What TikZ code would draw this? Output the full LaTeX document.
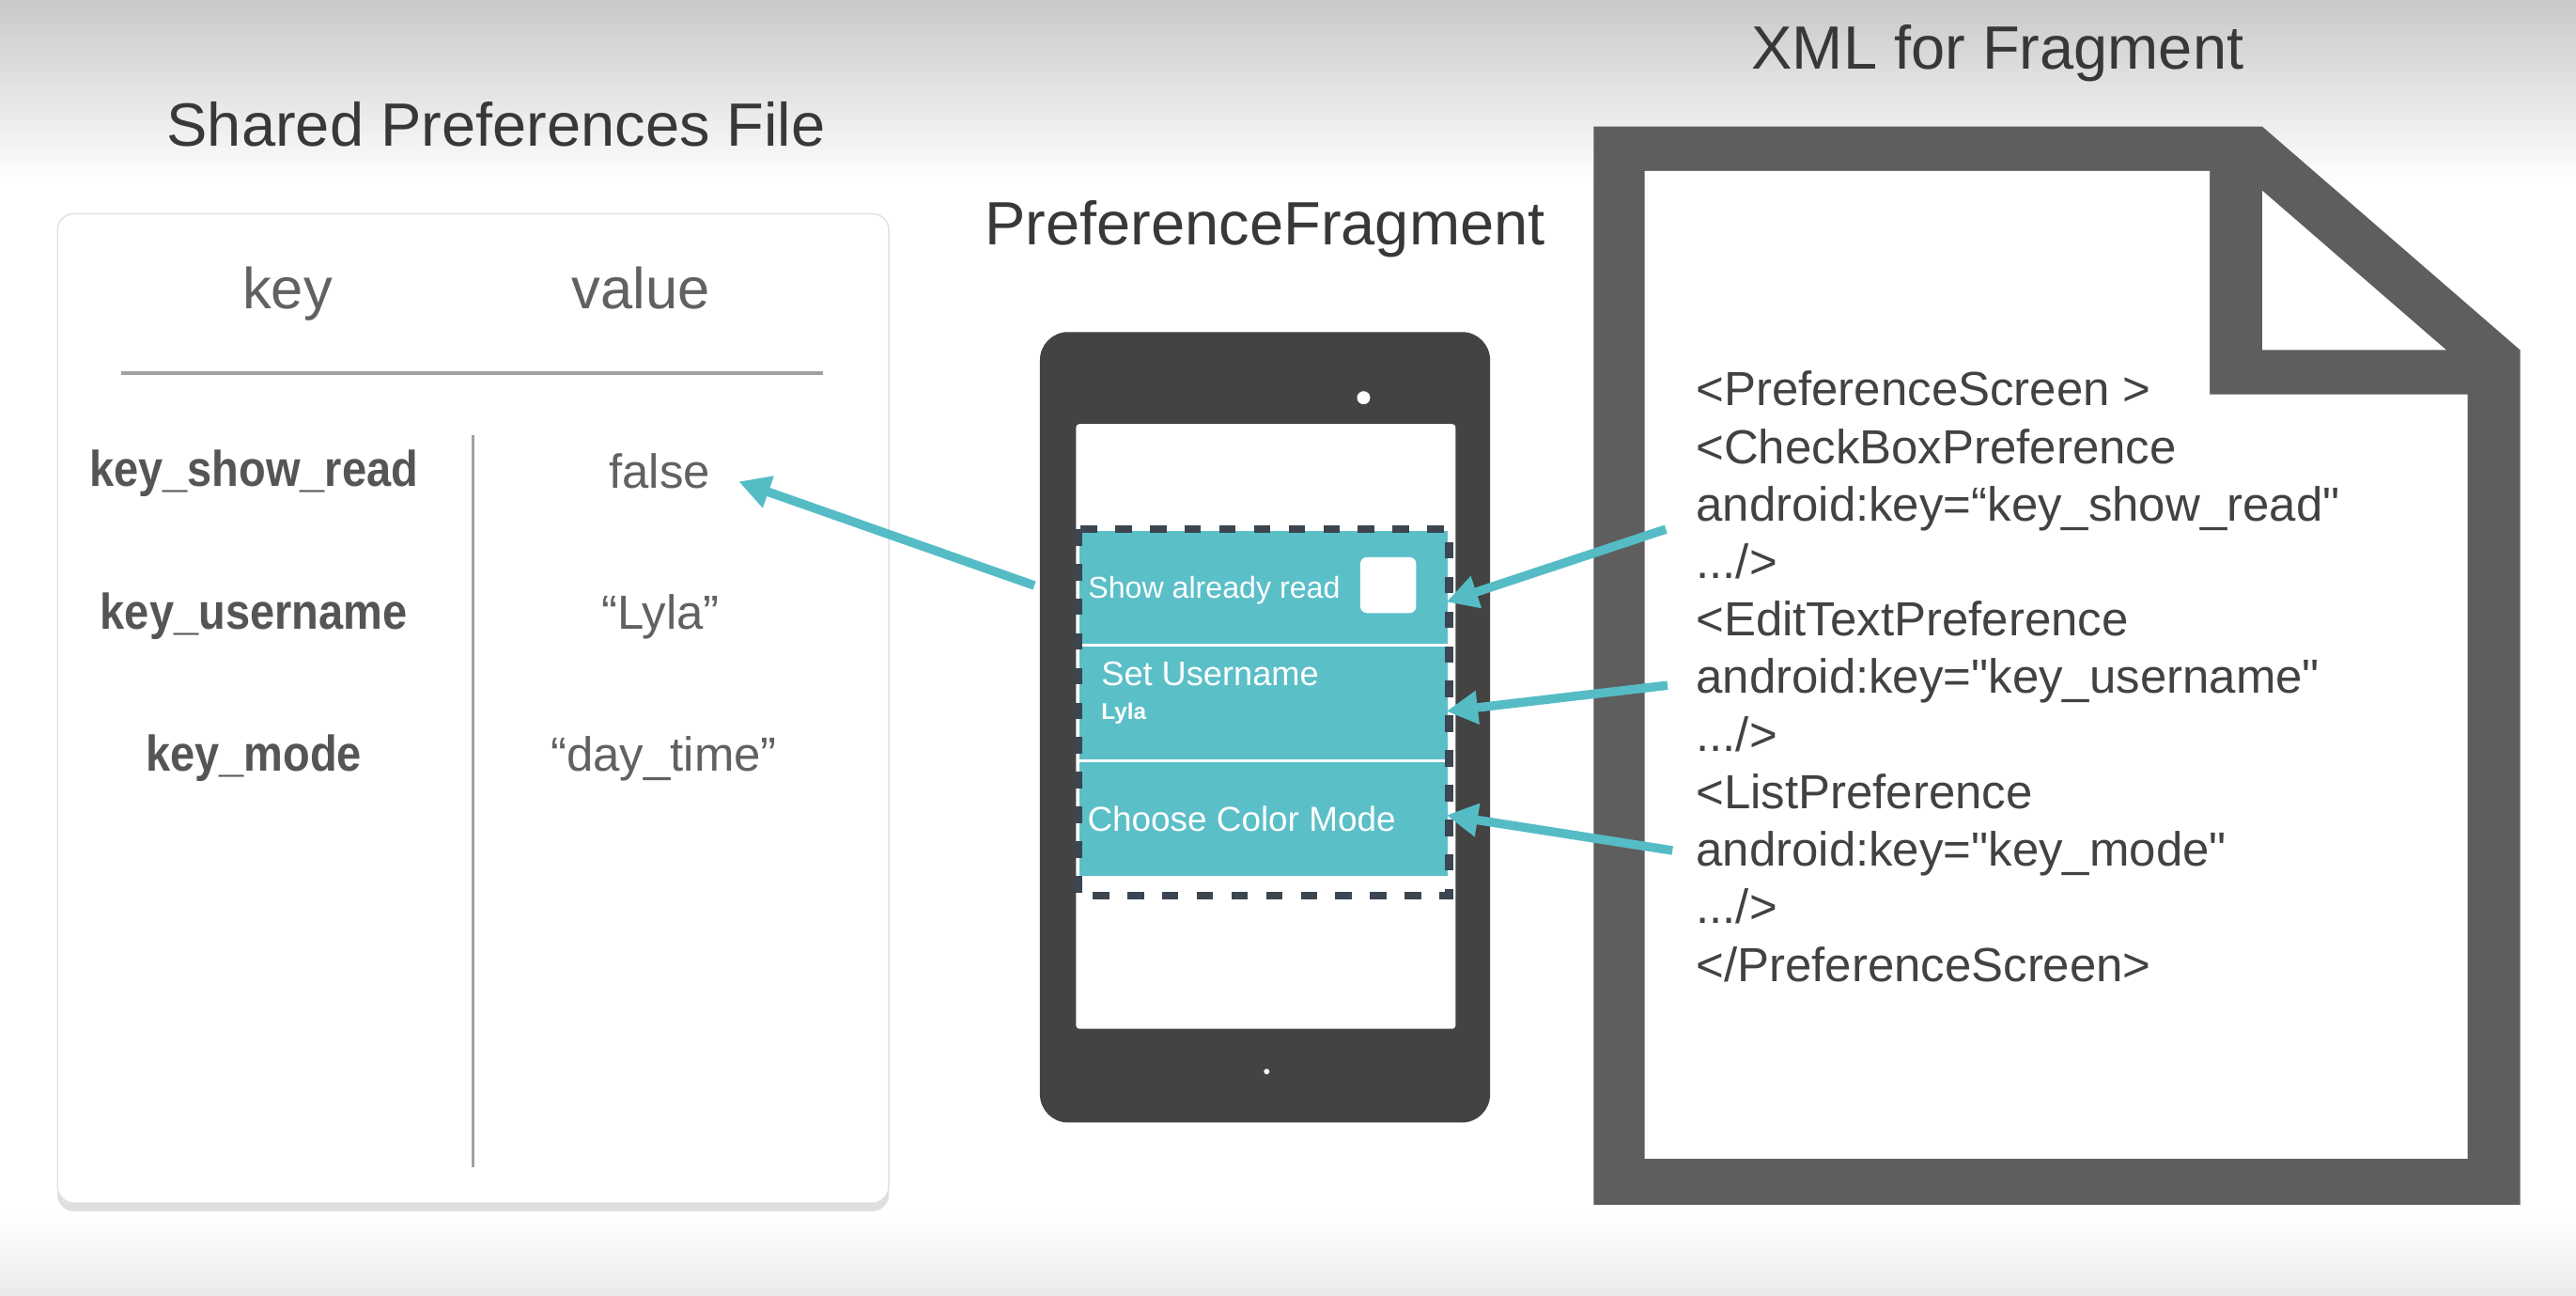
\documentclass[tikz,border=0pt]{standalone}
\usepackage{fontspec}
\setmainfont{Liberation Sans}
\newfontfamily\keyfont[FakeStretch=0.88]{Liberation Sans}
\newfontfamily\xmlfont[Ligatures=TeXOff]{Liberation Sans}
\usetikzlibrary{positioning,arrows.meta,fit,calc,shadows}
\definecolor{prefTeal}{HTML}{5BBFC8}
\definecolor{arrowTeal}{HTML}{55BCC6}
\definecolor{phoneGray}{HTML}{434343}
\definecolor{docGray}{HTML}{5E5E5E}
\definecolor{dashGray}{HTML}{3B4650}
\definecolor{tableText}{HTML}{616161}
\definecolor{keyText}{HTML}{555555}
\definecolor{ruleGray}{HTML}{A0A0A0}
\definecolor{xmlText}{HTML}{424242}
\definecolor{titleText}{HTML}{383838}
\definecolor{bgTop}{HTML}{C9C9C9}
\definecolor{bgBottom}{HTML}{EAEAEA}

\begin{document}
\begin{tikzpicture}[
                  x=0.1749mm, y=-0.1749mm,
                  title/.style={font=\fontsize{18.5}{22}\selectfont,text=titleText,inner sep=0pt,anchor=base},
                  head/.style={font=\fontsize{17.5}{21}\selectfont,text=tableText,inner sep=0pt,anchor=base},
                  keyname/.style={font=\keyfont\bfseries\fontsize{15.2}{18}\selectfont,text=keyText,inner sep=0pt,anchor=base},
                  keyval/.style={font=\fontsize{14.5}{17}\selectfont,text=tableText,inner sep=0pt,anchor=base},
                  xmlline/.style={font=\xmlfont\fontsize{14.5}{17}\selectfont,text=xmlText,inner sep=0pt,anchor=base west},
                  card/.style={fill=white,draw=black!12,rounded corners=5pt,inner sep=0pt,
                               drop shadow={opacity=.25,shadow xshift=0pt,shadow yshift=-2.5pt}},
                  row/.style={fill=prefTeal,inner sep=0pt},
                  rowtext/.style={text=white,inner sep=0pt,anchor=base west},
                  arr/.style={-{Triangle[length=9.5pt,width=9.6pt]},line width=2.7pt,draw=arrowTeal},
                  dashbox/.style={draw=dashGray,line width=2.5pt,dash pattern=on 5pt off 5.5pt}
                ]
                \useasboundingbox (0,0) rectangle (1568,788);
                \fill[white] (0,0) rectangle (1568,788);
                \shade[top color=bgTop,bottom color=white] (0,0) rectangle (1568,112);
                \shade[top color=white,bottom color=bgBottom] (0,738) rectangle (1568,788);

                % shared preferences table
                \node[title] (tshared) at (302,89) {Shared Preferences File};
                \node[card,fit={(35,130) (541,732)}] (card) {};
                \node[head] (hkey) at (175,188) {key};
                \node[head] (hval) at (390,188) {value};
                \draw[ruleGray,line width=1.1pt] (74,227) -- (501,227);
                \draw[ruleGray,line width=1pt] (288,265) -- (288,710);
                \node[keyname] (kread) at (154.5,296) {key\_show\_read};
                \node[keyname] (kuser) at (154.5,382.6) {key\_username};
                \node[keyname] (kmode) at (154.5,469) {key\_mode};
                \node[keyval] (vfalse) at (401.5,297) {false};
                \node[keyval] (vlyla) at (402,382.6) {“Lyla”};
                \node[keyval] (vday) at (404,469) {“day\_time”};

                % phone with the preference fragment
                \node[title] (tfrag) at (770,149) {PreferenceFragment};
                \node[fit={(633,202) (907,683)},fill=phoneGray,rounded corners=8.5pt,inner sep=0pt] (phone) {};
                \node[fit={(655,258) (886,626)},fill=white,rounded corners=1pt,inner sep=0pt] (screen) {};
                \fill[white] (830,242) circle[radius=4];
                \fill[white] (771,652) circle[radius=1.7];
                \node[row,fit={(657,323) (881,391.5)}] (r1) {};
                \node[row,fit={(657,393.5) (881,462)}] (r2) {};
                \node[row,fit={(657,464) (881,533)}] (r3) {};
                \node[fit={(828,339) (862,373)},fill=white,rounded corners=2pt,inner sep=0pt] (chk) {};
                \node[rowtext,font=\fontsize{9.15}{11}\selectfont] (lread) at (662,364) {Show already read};
                \node[rowtext,font=\fontsize{10.3}{12}\selectfont] (luser) at (670,417) {Set Username};
                \node[rowtext,font=\bfseries\fontsize{6.9}{8}\selectfont] (lname) at (670,437.5) {Lyla};
                \node[rowtext,font=\fontsize{10.5}{12}\selectfont] (lmode) at (661.5,506) {Choose Color Mode};
                \draw[dashbox] (656,322) rectangle (882,545);

                % xml file
                \node[title] (txml) at (1216,42) {XML for Fragment};
                \fill[docGray] (970,77) -- (1377,77) -- (1534,213) -- (1534,733) -- (970,733) -- cycle;
                \fill[white] (1001,104) -- (1345,104) -- (1345,240) -- (1502,240) -- (1502,705) -- (1001,705) -- cycle;
                \fill[white] (1377,116) -- (1489,213) -- (1377,213) -- cycle;
                \node[xmlline] (x1) at (1032,247) {<PreferenceScreen >};
                \node[xmlline] (x2) at (1032,282) {<CheckBoxPreference};
                \node[xmlline] (x3) at (1032,317) {android:key=“key\_show\_read"};
                \node[xmlline] (x4) at (1032,352) {.../>};
                \node[xmlline] (x5) at (1032,387) {<EditTextPreference};
                \node[xmlline] (x6) at (1032,422) {android:key="key\_username"};
                \node[xmlline] (x7) at (1032,457) {.../>};
                \node[xmlline] (x8) at (1032,492) {<ListPreference};
                \node[xmlline] (x9) at (1032,527) {android:key="key\_mode"};
                \node[xmlline] (x10) at (1032,562) {.../>};
                \node[xmlline] (x11) at (1032,597) {</PreferenceScreen>};

                \draw[arr] ($(r1.west)+(-27,-1)$) -- ($(vfalse.base east)+(17,-4)$);
                \draw[arr] ($(x3.base west)+(-18,5)$) -- ($(r1.east)+(-1,9)$);
                \draw[arr] ($(x6.base west)+(-17,-5)$) -- ($(r2.east)+(-1,5)$);
                \draw[arr] ($(x9.base west)+(-14,-9.5)$) -- ($(r3.east)+(-1,-2.5)$);
                \end{tikzpicture}
\end{document}
